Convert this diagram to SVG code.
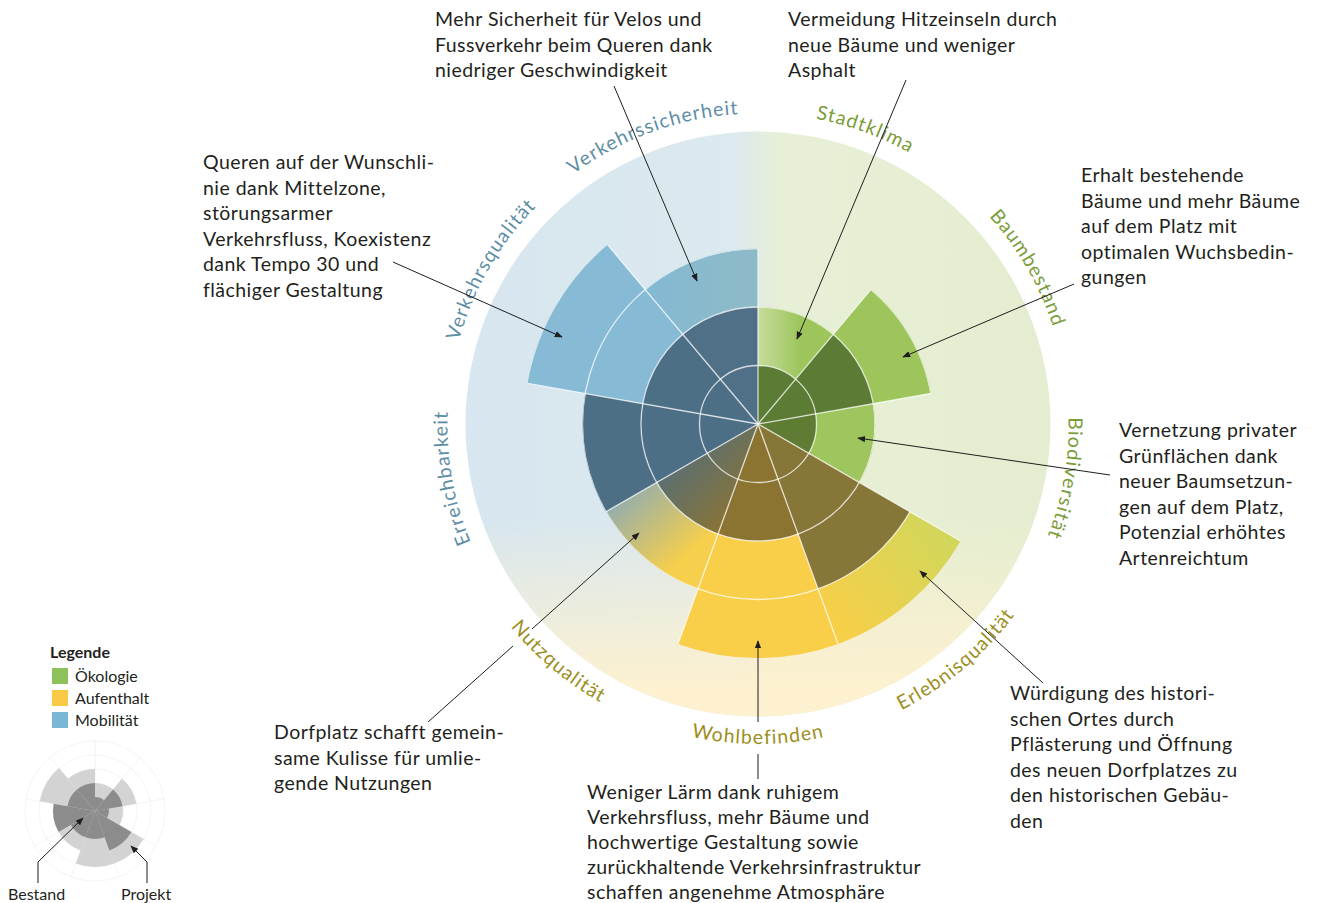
<svg xmlns="http://www.w3.org/2000/svg" width="1318" height="903" viewBox="0 0 1318 903">
<style>
.t{font-family:Lato,"Open Sans","Liberation Sans",sans-serif;font-size:19.5px;letter-spacing:0.45px;fill:#231f20}
.lab{font-family:Lato,"Open Sans","Liberation Sans",sans-serif;font-size:19.5px;letter-spacing:1.1px}
.mob{fill:#5e8ea6}.oek{fill:#7b9c3a}.auf{fill:#9c8f22}
.leg{font-family:Lato,"Open Sans","Liberation Sans",sans-serif;font-size:16px;fill:#231f20}
.con{stroke:#1e1e1e;stroke-width:1;fill:none}
.arr{marker-end:url(#ah)}
.grid{stroke:#ffffff;stroke-opacity:0.75;stroke-width:1.3;fill:none}
.mgrid{stroke:#d2d2d2;stroke-width:1;fill:none;vector-effect:non-scaling-stroke}
</style>
<defs>
<marker id="ah" viewBox="0 0 10 10" refX="9" refY="5" markerWidth="8" markerHeight="8" markerUnits="userSpaceOnUse" orient="auto">
<path d="M0,1 L10,5 L0,9 Z" fill="#1e1e1e"/>
</marker>
<linearGradient id="bgH" gradientUnits="userSpaceOnUse" x1="466" y1="0" x2="1050" y2="0">
<stop offset="0" stop-color="#d7e6ef"/>
<stop offset="0.46" stop-color="#dce9ee"/>
<stop offset="0.54" stop-color="#e7efd6"/>
<stop offset="1" stop-color="#e5edd0"/>
</linearGradient>
<linearGradient id="bgV" gradientUnits="userSpaceOnUse" x1="0" y1="520" x2="0" y2="690">
<stop offset="0" stop-color="#fdf1cf" stop-opacity="0"/>
<stop offset="1" stop-color="#fdf1cf" stop-opacity="1"/>
</linearGradient>
<linearGradient id="gNutzL" gradientUnits="userSpaceOnUse" x1="598" y1="500" x2="665" y2="575">
<stop offset="0" stop-color="#86a9ba"/>
<stop offset="1" stop-color="#f6cf4c"/>
</linearGradient>
<linearGradient id="gNutzD" gradientUnits="userSpaceOnUse" x1="665" y1="470" x2="725" y2="530">
<stop offset="0" stop-color="#5a6f72"/>
<stop offset="1" stop-color="#8a7434"/>
</linearGradient>
<linearGradient id="gErlL" gradientUnits="userSpaceOnUse" x1="850" y1="640" x2="965" y2="545">
<stop offset="0" stop-color="#f7cf48"/>
<stop offset="1" stop-color="#cfd75c"/>
</linearGradient>
<linearGradient id="gStadtL" gradientUnits="userSpaceOnUse" x1="758" y1="0" x2="800" y2="0">
<stop offset="0" stop-color="#c6dc9c"/>
<stop offset="1" stop-color="#9dc55c"/>
</linearGradient>
<linearGradient id="gVsL" gradientUnits="userSpaceOnUse" x1="650" y1="0" x2="758" y2="0">
<stop offset="0" stop-color="#84b9d3"/>
<stop offset="1" stop-color="#8ebac6"/>
</linearGradient>
<clipPath id="clipP">
<path d="M758 424 L758 307 A117 117 0 0 1 833.2 334.4 Z"/>
<path d="M758 424 L870.8 289.6 A175.5 175.5 0 0 1 930.8 393.5 Z"/>
<path d="M758 424 L873.2 403.7 A117 117 0 0 1 859.3 482.5 Z"/>
<path d="M758 424 L960.6 541 A234 234 0 0 1 838 643.9 Z"/>
<path d="M758 424 L838 643.9 A234 234 0 0 1 678 643.9 Z"/>
<path d="M758 424 L698 588.9 A175.5 175.5 0 0 1 606 511.75 Z"/>
<path d="M758 424 L606 511.75 A175.5 175.5 0 0 1 585.2 393.5 Z"/>
<path d="M758 424 L527.6 383.4 A234 234 0 0 1 607.6 244.8 Z"/>
<path d="M758 424 L645.2 289.6 A175.5 175.5 0 0 1 758 248.5 Z"/>
</clipPath>
<path id="pVs" d="M520.5 224.7 A306 306 0 0 1 811.8 118.7"/>
<path id="pSk" d="M704.2 118.7 A306 306 0 0 1 995.5 224.7"/>
<path id="pBb" d="M913 155.5 A306 306 0 0 1 1068 424"/>
<path id="pBd" d="M1049.3 318 A306 306 0 0 1 995.5 623.3"/>
<path id="pEr" d="M520.5 623.3 A306 306 0 0 1 466.7 318"/>
<path id="pVq" d="M448 424 A306 306 0 0 1 603 155.5"/>
<path id="pEq" d="M813.6 739.1 A320 320 0 0 0 1058.7 533.4"/>
<path id="pWb" d="M598 701.1 A320 320 0 0 0 918 701.1"/>
<path id="pNq" d="M457.3 533.4 A320 320 0 0 0 702.4 739.1"/>
</defs>

<rect width="1318" height="903" fill="#ffffff"/>

<g id="chart">
<circle cx="758" cy="424" r="292.5" fill="url(#bgH)"/>
<circle cx="758" cy="424" r="292.5" fill="url(#bgV)"/>

<g id="projekt">
<path d="M758 424 L758 307 A117 117 0 0 1 833.2 334.4 Z" fill="url(#gStadtL)"/>
<path d="M758 424 L870.8 289.6 A175.5 175.5 0 0 1 930.8 393.5 Z" fill="#9dc55c"/>
<path d="M758 424 L873.2 403.7 A117 117 0 0 1 859.3 482.5 Z" fill="#9fc65e"/>
<path d="M758 424 L960.6 541 A234 234 0 0 1 838 643.9 Z" fill="url(#gErlL)"/>
<path d="M758 424 L838 643.9 A234 234 0 0 1 678 643.9 Z" fill="#f9cf4a"/>
<path d="M758 424 L698 588.9 A175.5 175.5 0 0 1 606 511.75 Z" fill="url(#gNutzL)"/>
<path d="M758 424 L527.6 383.4 A234 234 0 0 1 607.6 244.8 Z" fill="#86bad5"/>
<path d="M758 424 L645.2 289.6 A175.5 175.5 0 0 1 758 248.5 Z" fill="url(#gVsL)"/>
</g>

<g id="bestand">
<path d="M758 424 L758 365.5 A58.5 58.5 0 0 1 795.6 379.2 Z" fill="#5c7b34"/>
<path d="M758 424 L833.2 334.4 A117 117 0 0 1 873.2 403.7 Z" fill="#5c7b34"/>
<path d="M758 424 L815.6 413.8 A58.5 58.5 0 0 1 808.7 453.3 Z" fill="#5e7c33"/>
<path d="M758 424 L910 511.75 A175.5 175.5 0 0 1 818 588.9 Z" fill="#867638"/>
<path d="M758 424 L798 533.9 A117 117 0 0 1 718 533.9 Z" fill="#8b7432"/>
<path d="M758 424 L718 533.9 A117 117 0 0 1 656.7 482.5 Z" fill="url(#gNutzD)"/>
<path d="M758 424 L606 511.75 A175.5 175.5 0 0 1 585.2 393.5 Z" fill="#4d6f86"/>
<path d="M758 424 L642.8 403.7 A117 117 0 0 1 682.8 334.4 Z" fill="#4d6f86"/>
<path d="M758 424 L682.8 334.4 A117 117 0 0 1 758 307 Z" fill="#4f7086"/>
</g>

<g id="grid" clip-path="url(#clipP)">
<circle cx="758" cy="424" r="58.5" class="grid"/>
<circle cx="758" cy="424" r="117" class="grid"/>
<circle cx="758" cy="424" r="175.5" class="grid"/>
</g>
<g id="spokes" class="grid">
<line x1="758" y1="424" x2="758" y2="248.5"/>
<line x1="758" y1="424" x2="870.8" y2="289.6"/>
<line x1="758" y1="424" x2="930.8" y2="393.5"/>
<line x1="758" y1="424" x2="960.6" y2="541"/>
<line x1="758" y1="424" x2="838" y2="643.9"/>
<line x1="758" y1="424" x2="678" y2="643.9"/>
<line x1="758" y1="424" x2="606" y2="511.75"/>
<line x1="758" y1="424" x2="527.6" y2="383.4"/>
<line x1="758" y1="424" x2="607.6" y2="244.8"/>
</g>
</g>

<g id="labels">
<text class="lab mob"><textPath href="#pVs" startOffset="50%" text-anchor="middle">Verkehrssicherheit</textPath></text>
<text class="lab oek"><textPath href="#pSk" startOffset="50%" text-anchor="middle">Stadtklima</textPath></text>
<text class="lab oek"><textPath href="#pBb" startOffset="50%" text-anchor="middle">Baumbestand</textPath></text>
<text class="lab oek"><textPath href="#pBd" startOffset="50%" text-anchor="middle">Biodiversität</textPath></text>
<text class="lab auf"><textPath href="#pEq" startOffset="50%" text-anchor="middle">Erlebnisqualität</textPath></text>
<text class="lab auf"><textPath href="#pWb" startOffset="50%" text-anchor="middle">Wohlbefinden</textPath></text>
<text class="lab auf"><textPath href="#pNq" startOffset="50%" text-anchor="middle">Nutzqualität</textPath></text>
<text class="lab mob"><textPath href="#pEr" startOffset="50%" text-anchor="middle">Erreichbarkeit</textPath></text>
<text class="lab mob"><textPath href="#pVq" startOffset="50%" text-anchor="middle">Verkehrsqualität</textPath></text>
</g>

<g id="connectors">
<line class="con arr" x1="614" y1="86" x2="697" y2="281"/>
<line class="con arr" x1="906" y1="80" x2="797" y2="339"/>
<line class="con arr" x1="1074" y1="284" x2="903" y2="357"/>
<line class="con arr" x1="1110" y1="475" x2="858" y2="438"/>
<line class="con arr" x1="1043" y1="683" x2="920" y2="571"/>
<line class="con" x1="758" y1="779" x2="758" y2="754"/>
<line class="con arr" x1="758" y1="722" x2="758" y2="641"/>
<line class="con" x1="428" y1="722" x2="513" y2="646"/>
<line class="con arr" x1="532" y1="629" x2="639" y2="533"/>
<line class="con arr" x1="393" y1="262" x2="562" y2="337"/>
</g>

<g id="note-verkehrssicherheit">
<text class="t"><tspan x="435" y="26">Mehr Sicherheit für Velos und</tspan><tspan x="435" y="51.5">Fussverkehr beim Queren dank</tspan><tspan x="435" y="77">niedriger Geschwindigkeit</tspan></text>
</g>
<g id="note-stadtklima">
<text class="t"><tspan x="788" y="26">Vermeidung Hitzeinseln durch</tspan><tspan x="788" y="51.5">neue Bäume und weniger</tspan><tspan x="788" y="77">Asphalt</tspan></text>
</g>
<g id="note-verkehrsqualitaet">
<text class="t"><tspan x="203" y="169">Queren auf der Wunschli-</tspan><tspan x="203" y="194.5">nie dank Mittelzone,</tspan><tspan x="203" y="220">störungsarmer</tspan><tspan x="203" y="245.5">Verkehrsfluss, Koexistenz</tspan><tspan x="203" y="271">dank Tempo 30 und</tspan><tspan x="203" y="296.5">flächiger Gestaltung</tspan></text>
</g>
<g id="note-baumbestand">
<text class="t"><tspan x="1081" y="182">Erhalt bestehende</tspan><tspan x="1081" y="207.5">Bäume und mehr Bäume</tspan><tspan x="1081" y="233">auf dem Platz mit</tspan><tspan x="1081" y="258.5">optimalen Wuchsbedin-</tspan><tspan x="1081" y="284">gungen</tspan></text>
</g>
<g id="note-biodiversitaet">
<text class="t"><tspan x="1119" y="437">Vernetzung privater</tspan><tspan x="1119" y="462.5">Grünflächen dank</tspan><tspan x="1119" y="488">neuer Baumsetzun-</tspan><tspan x="1119" y="513.5">gen auf dem Platz,</tspan><tspan x="1119" y="539">Potenzial erhöhtes</tspan><tspan x="1119" y="564.5">Artenreichtum</tspan></text>
</g>
<g id="note-nutzqualitaet">
<text class="t"><tspan x="274" y="739">Dorfplatz schafft gemein-</tspan><tspan x="274" y="764.5">same Kulisse für umlie-</tspan><tspan x="274" y="790">gende Nutzungen</tspan></text>
</g>
<g id="note-wohlbefinden">
<text class="t"><tspan x="587" y="799">Weniger Lärm dank ruhigem</tspan><tspan x="587" y="824">Verkehrsfluss, mehr Bäume und</tspan><tspan x="587" y="849">hochwertige Gestaltung sowie</tspan><tspan x="587" y="874">zurückhaltende Verkehrsinfrastruktur</tspan><tspan x="587" y="898.5">schaffen angenehme Atmosphäre</tspan></text>
</g>
<g id="note-erlebnisqualitaet">
<text class="t"><tspan x="1010" y="700">Würdigung des histori-</tspan><tspan x="1010" y="725.5">schen Ortes durch</tspan><tspan x="1010" y="751">Pflästerung und Öffnung</tspan><tspan x="1010" y="776.5">des neuen Dorfplatzes zu</tspan><tspan x="1010" y="802">den historischen  Gebäu-</tspan><tspan x="1010" y="827.5">den</tspan></text>
</g>

<g id="legend">
<text class="leg" x="50" y="658" font-weight="bold" font-size="16.5">Legende</text>
<rect x="52" y="668" width="16" height="16" fill="#8dc35a"/>
<text class="leg" x="75" y="682">Ökologie</text>
<rect x="52" y="690" width="16" height="16" fill="#f8c947"/>
<text class="leg" x="75" y="704">Aufenthalt</text>
<rect x="52" y="712" width="16" height="16" fill="#7ab7d6"/>
<text class="leg" x="75" y="726">Mobilität</text>
<g id="mini" transform="translate(95 811) scale(0.2393) translate(-758 -424)">
<g class="mgrid">
<circle cx="758" cy="424" r="292.5"/>
<circle cx="758" cy="424" r="234"/>
<circle cx="758" cy="424" r="175.5"/>
<circle cx="758" cy="424" r="117"/>
<line x1="758" y1="424" x2="758" y2="131.5"/>
<line x1="758" y1="424" x2="946" y2="200"/>
<line x1="758" y1="424" x2="1046" y2="373.2"/>
<line x1="758" y1="424" x2="1011.3" y2="570.3"/>
<line x1="758" y1="424" x2="858" y2="698.9"/>
<line x1="758" y1="424" x2="658" y2="698.9"/>
<line x1="758" y1="424" x2="504.7" y2="570.3"/>
<line x1="758" y1="424" x2="470" y2="373.2"/>
<line x1="758" y1="424" x2="570" y2="200"/>
</g>
<g fill="#d3d3d3">
<path d="M758 424 L758 307 A117 117 0 0 1 833.2 334.4 Z"/>
<path d="M758 424 L870.8 289.6 A175.5 175.5 0 0 1 930.8 393.5 Z"/>
<path d="M758 424 L873.2 403.7 A117 117 0 0 1 859.3 482.5 Z"/>
<path d="M758 424 L960.6 541 A234 234 0 0 1 838 643.9 Z"/>
<path d="M758 424 L838 643.9 A234 234 0 0 1 678 643.9 Z"/>
<path d="M758 424 L698 588.9 A175.5 175.5 0 0 1 606 511.75 Z"/>
<path d="M758 424 L527.6 383.4 A234 234 0 0 1 607.6 244.8 Z"/>
<path d="M758 424 L645.2 289.6 A175.5 175.5 0 0 1 758 248.5 Z"/>
</g>
<g fill="#8c8c8c">
<path d="M758 424 L758 365.5 A58.5 58.5 0 0 1 795.6 379.2 Z"/>
<path d="M758 424 L833.2 334.4 A117 117 0 0 1 873.2 403.7 Z"/>
<path d="M758 424 L815.6 413.8 A58.5 58.5 0 0 1 808.7 453.3 Z"/>
<path d="M758 424 L910 511.75 A175.5 175.5 0 0 1 818 588.9 Z"/>
<path d="M758 424 L798 533.9 A117 117 0 0 1 718 533.9 Z"/>
<path d="M758 424 L718 533.9 A117 117 0 0 1 656.7 482.5 Z"/>
<path d="M758 424 L606 511.75 A175.5 175.5 0 0 1 585.2 393.5 Z"/>
<path d="M758 424 L642.8 403.7 A117 117 0 0 1 682.8 334.4 Z"/>
<path d="M758 424 L682.8 334.4 A117 117 0 0 1 758 307 Z"/>
</g>
</g>
<polyline class="con arr" points="38,883 38,862 83,818"/>
<polyline class="con arr" points="147,883 147,862 131,846"/>
<text class="leg" x="8" y="900" font-size="17">Bestand</text>
<text class="leg" x="121" y="900" font-size="17">Projekt</text>
</g>
</svg>
